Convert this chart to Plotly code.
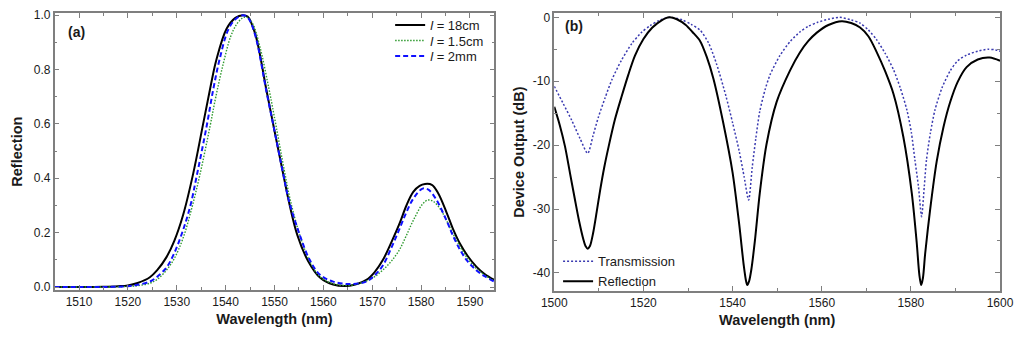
import plotly.graph_objects as go

# ---------------- Panel (a): Reflection vs wavelength ----------------
wl_18cm = [1505, 1510, 1515, 1518, 1520, 1522, 1524.5, 1526, 1527.9, 1529.5, 1531.3, 1533.4,
           1535.4, 1537, 1538.1, 1540.2, 1542, 1543.5, 1544.5, 1546, 1548.4, 1550, 1551.8, 1553,
           1554.7, 1556.9, 1559.3, 1562, 1565.4, 1568.8, 1570.5, 1572.2, 1574, 1575.6, 1577,
           1578.4, 1579.7, 1580.8, 1582.2, 1583.5, 1585.2, 1586.5, 1588, 1589.5, 1591.3, 1593, 1595]
refl_18cm = [0, 0, 0.001, 0.003, 0.006, 0.015, 0.036, 0.062, 0.11, 0.17, 0.265, 0.42,
             0.60, 0.745, 0.835, 0.95, 0.99, 1.0, 0.995, 0.935, 0.72, 0.575, 0.415, 0.31,
             0.19, 0.095, 0.035, 0.009, 0.005, 0.026, 0.055, 0.1, 0.168, 0.234, 0.30,
             0.35, 0.372, 0.379, 0.376, 0.345, 0.275, 0.215, 0.158, 0.115, 0.075, 0.048, 0.026]

wl_15cm = [1505, 1510, 1515, 1520, 1522, 1524.5, 1526, 1527.9, 1529.5, 1531.3, 1533, 1534.7,
           1536.8, 1538, 1539.5, 1541, 1542.2, 1543.5, 1544.3, 1545.5, 1547, 1548.8, 1550.3, 1552,
           1553.3, 1555.2, 1557.2, 1559.3, 1562, 1565.4, 1568.8, 1570.5, 1572.2, 1574, 1575.6,
           1577, 1578.4, 1580.3, 1581.4, 1582.5, 1584, 1585.2, 1586.5, 1588, 1589.5, 1591.3, 1593, 1595]
refl_15cm = [0, 0, 0, 0.002, 0.005, 0.014, 0.028, 0.062, 0.105, 0.18, 0.285, 0.41,
             0.59, 0.7, 0.82, 0.92, 0.965, 0.99, 0.993, 0.97, 0.885, 0.735, 0.595, 0.43,
             0.315, 0.19, 0.095, 0.038, 0.012, 0.006, 0.022, 0.038, 0.063, 0.097, 0.138,
             0.19, 0.245, 0.305, 0.32, 0.315, 0.285, 0.245, 0.197, 0.148, 0.105, 0.068, 0.044, 0.022]

wl_2mm = [1505, 1510, 1515, 1520, 1522, 1524.5, 1526, 1527.9, 1529.5, 1531.3, 1532.8, 1534.1,
          1536.1, 1537.5, 1538.8, 1540.5, 1542, 1543.6, 1544.6, 1546, 1548.4, 1550, 1551.8, 1553,
          1555.2, 1557.2, 1559.3, 1562, 1565.4, 1568.8, 1570.5, 1572.2, 1574, 1575.6, 1577,
          1578.4, 1580.3, 1581.5, 1583, 1585.2, 1586.5, 1588, 1589.5, 1591.3, 1593, 1595]
refl_2mm = [0, 0, 0, 0.003, 0.008, 0.02, 0.038, 0.072, 0.125, 0.21, 0.3, 0.41,
            0.59, 0.73, 0.84, 0.945, 0.985, 1.0, 0.99, 0.93, 0.715, 0.575, 0.415, 0.315,
            0.19, 0.1, 0.045, 0.02, 0.011, 0.02, 0.043, 0.08, 0.148, 0.215, 0.275,
            0.325, 0.362, 0.358, 0.325, 0.245, 0.19, 0.136, 0.095, 0.062, 0.04, 0.02]

# ---------------- Panel (b): Device output (dB) ----------------
wl_refl = [1500, 1501.2, 1502.4, 1503.5, 1504.6, 1505.6, 1506.5, 1507.0, 1507.5, 1508.0, 1508.7,
           1509.5, 1510.3, 1511.2, 1512.2, 1513.6, 1515.1, 1516.6, 1518.1, 1520, 1522, 1524,
           1525.8, 1527.5, 1529.5, 1531, 1532.7, 1534.2, 1535.7, 1537.9, 1540, 1541.5, 1542.5,
           1543.0, 1543.3, 1543.7, 1544.2, 1545.0, 1546.1, 1547.6, 1549.9, 1552.9, 1555.1, 1557,
           1558.9, 1561.5, 1564.5, 1566.6, 1568.6, 1570.5, 1572.3, 1574.2, 1576.1, 1578.3,
           1580.2, 1581.3, 1581.9, 1582.3, 1582.7, 1583.2, 1584.3, 1585.8, 1587.3, 1588.8,
           1590.5, 1592.5, 1595, 1597.7, 1600]
db_refl = [-14.0, -16.8, -20.2, -24.3, -28.4, -32.0, -34.7, -35.8, -36.2, -35.8, -33.8,
           -30.5, -27.0, -23.5, -20.2, -16.0, -12.4, -9.0, -6.0, -3.4, -1.6, -0.5,
           0.0, -0.3, -1.2, -2.3, -3.7, -6.2, -9.6, -16.5, -24.3, -32.5, -38.8,
           -41.2, -41.9, -41.3, -39.5, -35.0, -27.5, -19.9, -13.2, -8.3, -5.5, -3.7,
           -2.4, -1.2, -0.6, -0.9, -1.6, -3.0, -5.4, -8.4, -12.0, -18.7,
           -27.5, -35.2, -40.3, -41.9, -40.8, -37.0, -30.2, -22.5, -17.2, -13.3,
           -10.1, -7.8, -6.6, -6.3, -6.8]

wl_trans = [1500, 1502, 1503.9, 1505.8, 1507.5, 1508.7, 1509.9, 1511.4, 1512.9, 1515, 1517.4,
            1519.5, 1521.5, 1523.5, 1526, 1528.7, 1530.7, 1532.7, 1534.6, 1536.4, 1538.5, 1540,
            1541.5, 1542.6, 1543.6, 1544.4, 1545.2, 1546.1, 1547.3, 1548.4, 1550.6, 1552.9,
            1555.1, 1557, 1559, 1561.5, 1564, 1566.6, 1568.6, 1570.5, 1572.3, 1574.2, 1576.1,
            1577.6, 1579.1, 1580.1, 1580.9, 1581.7, 1582.4, 1583.0, 1583.5, 1584.4, 1585.4,
            1587, 1588.8, 1590.5, 1592.5, 1595, 1597.3, 1599, 1600]
db_trans = [-10.8, -13.5, -16.1, -19.0, -21.3, -18.5, -15.6, -12.6, -9.8, -6.8, -4.1,
            -2.4, -1.3, -0.5, 0.0, -0.4, -1.1, -2.0, -4.0, -7.3, -12.3, -16.5,
            -21.0, -25.0, -28.6, -23.5, -19.0, -14.7, -11.3, -9.0, -6.0, -3.8,
            -2.3, -1.4, -0.8, -0.3, 0.0, -0.4, -0.9, -2.0, -3.5, -5.6, -8.2,
            -11.0, -14.5, -18.0, -22.3, -26.5, -31.2, -26.5, -22.3, -18.0, -14.5,
            -11.0, -8.4, -6.8, -5.9, -5.3, -5.0, -5.1, -5.3]

# tick labels
xa_ticks = [1510, 1520, 1530, 1540, 1550, 1560, 1570, 1580, 1590]
ya_ticks = [0.0, 0.2, 0.4, 0.6, 0.8, 1.0]
xb_ticks = [1500, 1520, 1540, 1560, 1580, 1600]
yb_ticks = [0, -10, -20, -30, -40]
yb_labels = ["0", "-10", "-20", "-30", "-40"]

FONT = "Arial, Liberation Sans, sans-serif"
GRID = "#7f7f7f"
TXT = "#1a1a1a"

fig = go.Figure()

fig.add_trace(go.Scatter(x=wl_18cm, y=refl_18cm, name="<i>l</i> = 18cm", mode="lines",
                         line=dict(color="black", width=2, shape="spline", smoothing=1.0),
                         xaxis="x", yaxis="y", legend="legend"))
fig.add_trace(go.Scatter(x=wl_15cm, y=refl_15cm, name="<i>l</i> = 1.5cm", mode="lines",
                         line=dict(color="#2f9a2f", width=1.4, dash="1.5px,1.5px", shape="spline", smoothing=1.0),
                         xaxis="x", yaxis="y", legend="legend3"))
fig.add_trace(go.Scatter(x=wl_2mm, y=refl_2mm, name="<i>l</i> = 2mm", mode="lines",
                         line=dict(color="#1010ff", width=2, dash="5px,3px", shape="spline", smoothing=1.0),
                         xaxis="x", yaxis="y", legend="legend4"))

fig.add_trace(go.Scatter(x=wl_trans, y=db_trans, name="Transmission", mode="lines",
                         line=dict(color="#3a3ab0", width=1.5, dash="2px,2px", shape="spline", smoothing=0.7),
                         xaxis="x2", yaxis="y2", legend="legend2"))
fig.add_trace(go.Scatter(x=wl_refl, y=db_refl, name="Reflection", mode="lines",
                         line=dict(color="black", width=2, shape="spline", smoothing=0.8),
                         xaxis="x2", yaxis="y2", legend="legend2"))

axis_common = dict(showline=True, linecolor=GRID, linewidth=1.5, mirror="ticks",
                   ticks="inside", ticklen=5, tickwidth=1, tickcolor=GRID,
                   showgrid=False, zeroline=False, automargin=False,
                   tickfont=dict(family=FONT, size=12, color=TXT))
title_font = dict(family=FONT, size=14.5, color=TXT)

leg_a = dict(x=0.381, xanchor="left", yanchor="middle", bgcolor="rgba(0,0,0,0)",
             font=dict(family=FONT, size=13, color=TXT))

fig.update_layout(
    width=1024, height=339,
    margin=dict(l=0, r=0, t=0, b=0, autoexpand=False),
    paper_bgcolor="white", plot_bgcolor="white",
    font=dict(family=FONT, color=TXT),
    xaxis=dict(domain=[0.0533, 0.4828], range=[1505, 1595], anchor="y",
               tickmode="array", tickvals=xa_ticks,
               minor=dict(ticks="inside", ticklen=3, dtick=5, tick0=1505, tickcolor=GRID),
               title=dict(text="<b>Wavelength (nm)</b>", font=title_font, standoff=6),
               **axis_common),
    yaxis=dict(domain=[0.1445, 0.9608], range=[-0.011, 1.007], anchor="x",
               tickmode="array", tickvals=ya_ticks, tickformat=".1f",
               minor=dict(ticks="inside", ticklen=3, dtick=0.1, tick0=0, tickcolor=GRID),
               title=dict(text="<b>Reflection</b>", font=title_font, standoff=8),
               **axis_common),
    xaxis2=dict(domain=[0.5413, 0.9766], range=[1500, 1600], anchor="y2",
                tickmode="array", tickvals=xb_ticks,
                minor=dict(ticks="inside", ticklen=3, dtick=10, tick0=1500, tickcolor=GRID),
                title=dict(text="<b>Wavelength (nm)</b>", font=title_font, standoff=6),
                **axis_common),
    yaxis2=dict(domain=[0.1416, 0.9608], range=[-42.83, 0.63], anchor="x2",
                tickmode="array", tickvals=yb_ticks, ticktext=yb_labels,
                minor=dict(ticks="inside", ticklen=3, dtick=5, tick0=0, tickcolor=GRID),
                title=dict(text="<b>Device Output (dB)</b>", font=title_font, standoff=5),
                **axis_common),
    legend=dict(y=1 - 25 / 339, **leg_a),
    legend3=dict(y=1 - 40.5 / 339, **leg_a),
    legend4=dict(y=1 - 56 / 339, **leg_a),
    legend2=dict(x=0.545, y=0.126, xanchor="left", yanchor="bottom",
                 bgcolor="rgba(0,0,0,0)", font=dict(family=FONT, size=13, color=TXT),
                 tracegroupgap=0),
    showlegend=True,
    annotations=[
        dict(text="<b>(a)</b>", x=76 / 1024, y=1 - 32 / 339, xref="paper", yref="paper",
             xanchor="center", yanchor="middle",
             showarrow=False, font=dict(family=FONT, size=14, color=TXT)),
        dict(text="<b>(b)</b>", x=574 / 1024, y=1 - 26 / 339, xref="paper", yref="paper",
             xanchor="center", yanchor="middle",
             showarrow=False, font=dict(family=FONT, size=14, color=TXT)),
    ],
)

fig.write_html("out.html", config={"displayModeBar": False},
               post_script="document.body.style.margin='0px';")
